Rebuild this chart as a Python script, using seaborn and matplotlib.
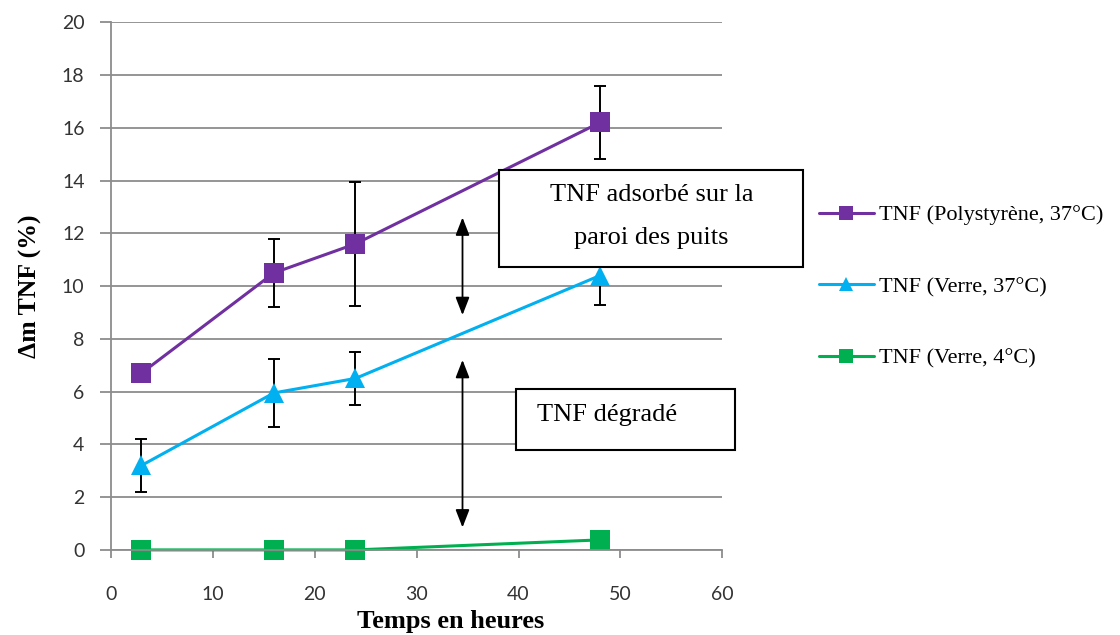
import numpy as np
import pandas as pd
import matplotlib
matplotlib.use("Agg")
import matplotlib.pyplot as plt
import seaborn as sns
from matplotlib.patches import Rectangle

# Data
hours = [3, 16, 24, 48]
poly_37 = [6.7, 10.5, 11.6, 16.2]
poly_37_err = [0.0, 1.3, 2.35, 1.4]
verre_37 = [3.2, 5.95, 6.5, 10.4]
verre_37_err = [1.0, 1.3, 1.0, 1.1]
verre_4 = [0.0, 0.0, 0.0, 0.38]

series_names = ["TNF (Polystyrène, 37°C)", "TNF (Verre, 37°C)", "TNF (Verre, 4°C)"]
series_colors = ["#7030A0", "#00B0F0", "#00B050"]
series_markers = ["s", "^", "s"]

df = pd.DataFrame({
    "Temps": hours * 3,
    "TNF": poly_37 + verre_37 + verre_4,
    "serie": [series_names[0]] * 4 + [series_names[1]] * 4 + [series_names[2]] * 4,
})

sns.set_theme(style="white")
plt.rcParams["text.color"] = "black"
serif = ["Liberation Serif", "DejaVu Serif"]
sans = ["Lato", "DejaVu Sans"]

fig = plt.figure(figsize=(11.2, 6.35), dpi=100)
ax = fig.add_axes([0.099, 0.134, 0.546, 0.831])

grid_color = "#8c8c8c"
ax.set_axisbelow(True)
ax.yaxis.grid(True, color=grid_color, linewidth=1.3)
ax.xaxis.grid(False)

sns.lineplot(data=df, x="Temps", y="TNF", hue="serie", style="serie",
             hue_order=series_names, style_order=series_names,
             palette=dict(zip(series_names, series_colors)),
             markers=dict(zip(series_names, series_markers)),
             dashes=False, markersize=15, linewidth=2.2,
             markeredgewidth=0, ax=ax, legend=False)
for ln in ax.lines:
    ln.set_clip_on(False)

# error bars
ax.errorbar(hours[1:], poly_37[1:], yerr=poly_37_err[1:], fmt="none",
            ecolor="black", elinewidth=1.4, capsize=4.5, capthick=1.4, zorder=1)
ax.errorbar(hours, verre_37, yerr=verre_37_err, fmt="none",
            ecolor="black", elinewidth=1.4, capsize=4.5, capthick=1.4, zorder=1)

ax.set_xlim(0, 60)
ax.set_ylim(0, 20)
ax.set_xticks(range(0, 61, 10))
ax.set_yticks(range(0, 21, 2))

for s in ["top", "right"]:
    ax.spines[s].set_visible(False)
for s in ["left", "bottom"]:
    ax.spines[s].set_color(grid_color)
    ax.spines[s].set_linewidth(1.3)

ax.tick_params(axis="x", bottom=True, direction="out", length=6, width=1.3,
               color=grid_color, pad=20, labelsize=14, labelcolor="#333333")
ax.tick_params(axis="y", left=True, direction="out", length=8, width=1.3,
               color=grid_color, pad=11, labelsize=14, labelcolor="#333333")
for lab in ax.get_xticklabels() + ax.get_yticklabels():
    lab.set_family(sans)

ax.set_xlabel("Temps en heures", family=serif, fontsize=19, fontweight="bold",
              color="black", labelpad=5)
ax.xaxis.label.set_x(0.555)
ax.set_ylabel("Δm TNF (%)", family=serif, fontsize=18.5, fontweight="bold",
              color="black", labelpad=14)

# double arrows
arrow_kw = dict(arrowstyle="<|-|>,head_width=0.35,head_length=0.9",
                color="black", lw=1.3, shrinkA=0, shrinkB=0)
ax.annotate("", xy=(34.5, 12.6), xytext=(34.5, 8.9), arrowprops=arrow_kw)
ax.annotate("", xy=(34.5, 7.2), xytext=(34.5, 0.85), arrowprops=arrow_kw)

# text boxes (figure coordinates)
fig.patches.append(Rectangle((0.4455, 0.580), 0.2714, 0.1528, transform=fig.transFigure,
                             facecolor="white", edgecolor="black", linewidth=1.5, zorder=5))
fig.text(0.5815, 0.693, "TNF adsorbé sur la", family=serif, fontsize=19,
         ha="center", va="center", zorder=6)
fig.text(0.5815, 0.625, "paroi des puits", family=serif, fontsize=19,
         ha="center", va="center", zorder=6)

fig.patches.append(Rectangle((0.4607, 0.2913), 0.1955, 0.096, transform=fig.transFigure,
                             facecolor="white", edgecolor="black", linewidth=1.5, zorder=5))
fig.text(0.4795, 0.347, "TNF dégradé", family=serif, fontsize=19,
         ha="left", va="center", zorder=6)

# legend
handles = [plt.Line2D([], [], color=c, marker=m, markersize=10, linewidth=2.2,
                      markeredgewidth=0)
           for c, m in zip(series_colors, series_markers)]
fig.legend(handles, series_names, loc="upper left", bbox_to_anchor=(0.713, 0.709),
           frameon=False, prop={"family": serif, "size": 16},
           handlelength=2.5, handletextpad=0.2, labelspacing=2.3)

fig.savefig("out.png", dpi=100)
